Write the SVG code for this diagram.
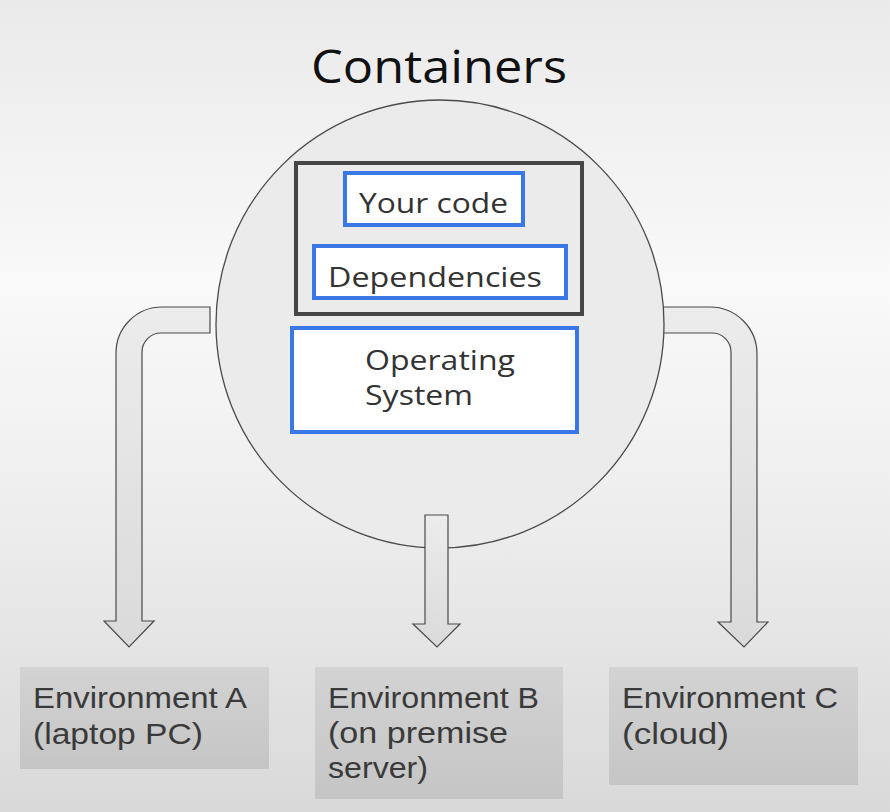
<svg xmlns="http://www.w3.org/2000/svg" width="890" height="812" viewBox="0 0 890 812">
<defs>
<linearGradient id="bg" x1="0" y1="0" x2="0" y2="1">
<stop offset="0" stop-color="#eaeaea"/>
<stop offset="0.35" stop-color="#f9f9f9"/>
<stop offset="0.6" stop-color="#efefef"/>
<stop offset="1" stop-color="#d9d9d9"/>
</linearGradient>
<linearGradient id="env" x1="0" y1="0" x2="0" y2="1">
<stop offset="0" stop-color="#d3d3d3"/>
<stop offset="1" stop-color="#c5c5c5"/>
</linearGradient>
<linearGradient id="arr" x1="0" y1="0" x2="0" y2="1">
<stop offset="0" stop-color="#ececec"/>
<stop offset="1" stop-color="#dadada"/>
</linearGradient>
</defs>
<style>
text{font-family:"Open Sans","Noto Sans","Liberation Sans",sans-serif;fill:#333}
.title{font-size:45px;fill:#111}
.in{font-size:27px}
.env{font-family:"Liberation Sans","Open Sans",sans-serif;font-size:29px;fill:#3a3a3a}
.blue{fill:#fff;stroke:#3b78e7;stroke-width:4}
.envbox{fill:url(#env)}
.arrow{fill:url(#arr);stroke:#4a4a4a;stroke-width:1.2;stroke-linejoin:miter}
</style>
<rect x="0" y="0" width="890" height="812" fill="url(#bg)"/>
<text class="title" x="311" y="83" textLength="256" lengthAdjust="spacingAndGlyphs">Containers</text>
<g id="connectors">
<path class="arrow" d="M210,307 H162 A46,46 0 0 0 116,353 V621 H104 L129,647 L154,621 H142 V352 A19,19 0 0 1 161,333 H210 Z"/>
<path class="arrow" d="M640,307 H710 A47,47 0 0 1 757,354 V622 H768 L744,647 L718,622 H731 V352 A19,19 0 0 0 712,333 H640 Z"/>
</g>
<g id="container">
<circle cx="440" cy="324" r="224" fill="#ebebeb" stroke="#4a4a4a" stroke-width="1.3"/>
<rect x="296" y="163" width="286" height="151" fill="none" stroke="#464646" stroke-width="4"/>
</g>
<g id="your-code">
<rect class="blue" x="345" y="173" width="178" height="52"/>
<text class="in" x="359" y="213" textLength="149" lengthAdjust="spacingAndGlyphs">Your code</text>
</g>
<g id="dependencies">
<rect class="blue" x="314" y="246" width="252" height="52"/>
<text class="in" x="328" y="287" textLength="214" lengthAdjust="spacingAndGlyphs">Dependencies</text>
</g>
<g id="operating-system">
<rect class="blue" x="292" y="328" width="285" height="104"/>
<text class="in" x="365" y="370" textLength="150" lengthAdjust="spacingAndGlyphs">Operating</text>
<text class="in" x="365" y="405" textLength="108" lengthAdjust="spacingAndGlyphs">System</text>
</g>
<g id="connector-mid">
<path class="arrow" d="M425,515 H448 V624 H460 L437,647 L413,624 H425 Z"/>
</g>
<g id="env-a">
<rect class="envbox" x="20" y="667" width="249" height="102"/>
<text class="env" x="33" y="708" textLength="214" lengthAdjust="spacingAndGlyphs">Environment A</text>
<text class="env" x="33" y="744" textLength="170" lengthAdjust="spacingAndGlyphs">(laptop PC)</text>
</g>
<g id="env-b">
<rect class="envbox" x="315" y="667" width="248" height="132"/>
<text class="env" x="328" y="708" textLength="211" lengthAdjust="spacingAndGlyphs">Environment B</text>
<text class="env" x="328" y="743" textLength="180" lengthAdjust="spacingAndGlyphs">(on premise</text>
<text class="env" x="328" y="778" textLength="100" lengthAdjust="spacingAndGlyphs">server)</text>
</g>
<g id="env-c">
<rect class="envbox" x="609" y="667" width="249" height="118"/>
<text class="env" x="622" y="708" textLength="216" lengthAdjust="spacingAndGlyphs">Environment C</text>
<text class="env" x="622" y="744" textLength="107" lengthAdjust="spacingAndGlyphs">(cloud)</text>
</g>
</svg>
